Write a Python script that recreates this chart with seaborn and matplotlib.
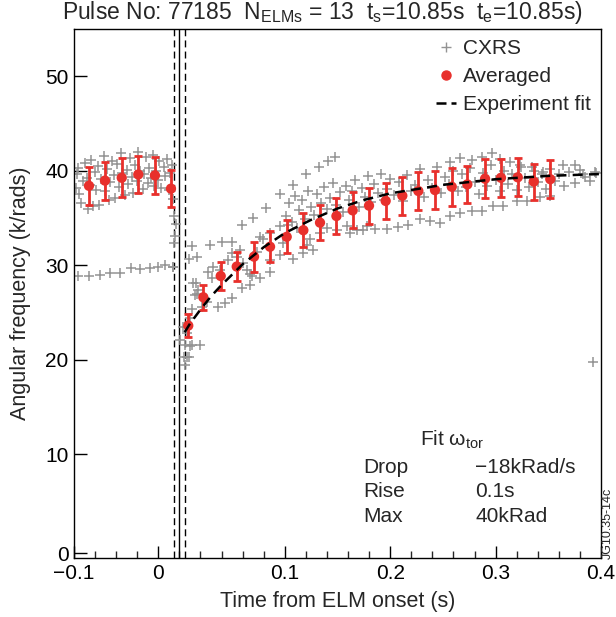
import numpy as np
import seaborn as sns
import matplotlib
matplotlib.use('Agg')
import matplotlib.pyplot as plt
from matplotlib.lines import Line2D
from matplotlib.ticker import FixedLocator

# ---------------- data ----------------
# CXRS measurements (time from ELM onset [s], angular frequency [krad/s])
pre_band_t = [-0.098, -0.097, -0.096, -0.095, -0.093, -0.091, -0.090, -0.088, -0.087, -0.085,
              -0.084, -0.082, -0.080, -0.079, -0.077, -0.076, -0.074, -0.072, -0.071, -0.069,
              -0.067, -0.066, -0.064, -0.062, -0.061, -0.059, -0.057, -0.055, -0.054, -0.052,
              -0.050, -0.049, -0.047, -0.045, -0.044, -0.042, -0.040, -0.039, -0.037, -0.035,
              -0.034, -0.032, -0.030, -0.029, -0.027, -0.025, -0.024, -0.022, -0.020, -0.019,
              -0.017, -0.015, -0.014, -0.012, -0.010, -0.009, -0.007, -0.006, -0.005, -0.004]
pre_band_w = [38.2, 39.6, 40.3, 37.5, 36.6, 38.9, 40.8, 39.2, 35.9, 38.5,
              41.1, 36.3, 39.9, 38.0, 40.5, 36.4, 39.1, 41.6, 37.8, 40.2,
              36.9, 38.8, 41.0, 39.5, 37.1, 40.7, 38.3, 41.9, 39.8, 37.4,
              40.1, 38.6, 41.3, 39.3, 37.6, 40.6, 38.9, 42.0, 40.0, 38.1,
              39.7, 41.4, 38.7, 40.3, 39.2, 41.7, 38.4, 40.0, 39.0, 41.0,
              38.2, 40.4, 39.4, 41.2, 38.0, 39.8, 40.6, 37.0, 35.2, 33.1]

pre_low_t = [-0.096, -0.0855, -0.0753, -0.0658, -0.0564, -0.0459, -0.0374, -0.0279, -0.020, -0.0137, -0.0058]
pre_low_w = [28.9, 28.8, 29.0, 29.2, 29.2, 29.75, 29.6, 29.75, 29.85, 30.0, 29.85]

onset_t = [-0.003, -0.005, -0.006, 0.009, 0.017, 0.016, 0.017, 0.012,
           0.001, 0.005, 0.012, 0.020, 0.004, 0.009, 0.005, 0.007, 0.003, 0.0101, 0.0069]
onset_w = [34.4, 32.3, 29.8, 30.7, 30.9, 28.1, 26.9, 32.0,
           22.1, 21.6, 21.5, 21.6, 20.3, 20.3, 19.4, 22.8, 23.5, 21.4, 20.3]

rise_t = [0.0132, 0.0179, 0.0148, 0.0117, 0.0101, 0.0211, 0.0259, 0.0274, 0.0306, 0.0322,
          0.0385, 0.0464, 0.0496, 0.0544, 0.0575, 0.0606, 0.0639, 0.067, 0.0686, 0.0591,
          0.0496, 0.0369, 0.0433, 0.0733, 0.0765, 0.0796, 0.086, 0.0954, 0.1033, 0.1113,
          0.1176, 0.1239, 0.1334, 0.1398, 0.1492, 0.1587, 0.1682, 0.1777, 0.086, 0.0765,
          0.0954, 0.1081, 0.1176, 0.127, 0.1208, 0.0986, 0.086, 0.067]
rise_w = [28.1, 27.4, 26.85, 25.4, 24.4, 25.6, 26.1, 29.3, 28.6, 29.8,
          29.5, 30.55, 31.3, 30.9, 31.6, 30.2, 29.5, 29.1, 28.8, 27.6,
          26.5, 25.6, 26.0, 31.4, 33.0, 32.8, 33.4, 34.1, 34.25, 33.9,
          33.5, 32.8, 33.4, 33.9, 33.7, 34.1, 33.7, 34.1, 29.3, 28.6,
          31.1, 30.7, 31.3, 31.6, 32.1, 32.3, 30.55, 27.9]

upper_t = [0.029, 0.040, 0.050, 0.059, 0.070, 0.082, 0.095, 0.108, 0.120, 0.132, 0.141, 0.148]
upper_w = [32.1, 32.4, 32.4, 34.2, 35.0, 36.0, 37.5, 38.5, 39.6, 40.4, 41.0, 41.5]

late_t = [0.101, 0.104, 0.107, 0.110, 0.113, 0.116, 0.119, 0.122, 0.125, 0.128,
          0.131, 0.134, 0.137, 0.140, 0.143, 0.146, 0.149, 0.152, 0.155, 0.158,
          0.161, 0.164, 0.167, 0.170, 0.173, 0.176, 0.179, 0.182, 0.185, 0.188,
          0.191, 0.194, 0.197, 0.200, 0.204, 0.208, 0.212, 0.216, 0.220, 0.224,
          0.228, 0.232, 0.236, 0.240, 0.244, 0.248, 0.252, 0.256, 0.260, 0.264,
          0.268, 0.272, 0.276, 0.280, 0.284, 0.288, 0.292, 0.296, 0.300, 0.304,
          0.308, 0.312, 0.316, 0.320, 0.324, 0.328, 0.332, 0.336, 0.340, 0.344,
          0.348, 0.352, 0.356, 0.360, 0.365, 0.370, 0.375, 0.380, 0.385, 0.390, 0.395]
late_w = [35.2, 36.6, 34.6, 37.3, 35.8, 36.9, 34.9, 37.8, 36.2, 35.3,
          37.5, 36.6, 38.3, 35.9, 37.1, 38.7, 36.4, 37.7, 35.6, 38.4,
          36.9, 37.9, 39.0, 36.2, 38.2, 37.2, 39.4, 36.7, 38.6, 37.6,
          39.7, 36.9, 38.1, 39.1, 37.4, 38.8, 36.8, 39.5, 37.9, 38.5,
          40.2, 37.2, 39.0, 38.2, 40.4, 37.6, 39.3, 38.6, 40.0, 37.9,
          39.6, 38.3, 40.3, 38.8, 37.5, 39.8, 38.4, 40.6, 39.0, 37.8,
          40.0, 38.6, 39.6, 38.0, 40.4, 39.2, 38.3, 40.0, 38.8, 39.7,
          38.1, 40.2, 38.9, 39.6, 38.4, 39.9, 38.7, 40.1, 39.3, 38.9, 39.8]

lowstreak_t = [0.1619, 0.1745, 0.1856, 0.1967, 0.2077, 0.2172, 0.2283, 0.2378, 0.2473, 0.2567,
               0.2662, 0.2773, 0.2868, 0.2978, 0.3073, 0.3200, 0.3295, 0.3421, 0.3516]
lowstreak_w = [33.4, 33.7, 33.8, 33.8, 34.0, 34.25, 34.85, 34.7, 34.5, 35.2,
               35.5, 35.7, 35.7, 36.3, 36.3, 36.8, 36.8, 37.2, 37.35]

top_t = [0.2567, 0.2662, 0.2773, 0.2868, 0.2963, 0.3042, 0.3137, 0.3232, 0.3342, 0.3453,
         0.3642, 0.3753, 0.3832, 0.3943, 0.3924]
top_w = [40.9, 41.3, 41.1, 41.5, 41.9, 41.2, 40.9, 40.6, 40.4, 39.9,
         40.6, 40.6, 39.7, 39.9, 19.8]

cxrs_t = pre_band_t + pre_low_t + onset_t + rise_t + upper_t + late_t + lowstreak_t + top_t
cxrs_w = pre_band_w + pre_low_w + onset_w + rise_w + upper_w + late_w + lowstreak_w + top_w

# ELM-averaged values with error bars
avg_t = [-0.0858, -0.0706, -0.0547, -0.039, -0.0232, -0.008,
         0.0084, 0.0227, 0.0392, 0.0544, 0.0708, 0.086, 0.1018, 0.1176, 0.1334, 0.149,
         0.1644, 0.1799, 0.1957, 0.2115, 0.2267, 0.2425, 0.2584, 0.2732, 0.2900, 0.3051,
         0.3210, 0.3362, 0.3519]
avg_w = [38.4, 38.95, 39.25, 39.6, 39.5, 38.1,
         23.6, 26.6, 28.85, 29.85, 30.9, 31.95, 33.0, 33.7, 34.5, 35.2,
         35.8, 36.3, 36.8, 37.35, 37.85, 37.95, 38.3, 38.55, 39.15, 39.25,
         39.3, 38.85, 39.1]
avg_err = [2.0, 2.0, 2.05, 2.0, 2.0, 1.95,
           1.2, 1.35, 1.5, 1.55, 1.6, 1.65, 1.75, 1.8, 1.85, 1.9,
           1.9, 1.9, 1.95, 2.0, 2.0, 2.0, 2.0, 2.0, 2.05, 2.0,
           2.0, 1.9, 2.0]

# Experiment fit curve
fit_t = [0.005, 0.01, 0.02, 0.03, 0.04, 0.06, 0.08, 0.10, 0.125, 0.15, 0.175, 0.20, 0.25, 0.30, 0.35, 0.40]
fit_w = [22.9, 23.8, 25.3, 26.7, 27.9, 30.1, 31.9, 33.4, 34.8, 36.0, 36.9, 37.6, 38.5, 39.1, 39.45, 39.65]

elm_lines = [-0.005, 0.0, 0.005]

xtick_pos = [-0.1, -0.02, 0.1, 0.2, 0.3, 0.4]
xtick_lab = ['\u22120.1', '0', '0.1', '0.2', '0.3', '0.4']
ytick_pos = [-0.5, 10, 20, 30, 40, 50]
ytick_lab = ['0', '10', '20', '30', '40', '50']

# ---------------- style ----------------
sns.set_style('ticks')
plt.rcParams['font.family'] = ['Liberation Sans', 'DejaVu Sans']
plt.rcParams['mathtext.fontset'] = 'custom'
plt.rcParams['mathtext.rm'] = 'Liberation Sans'
plt.rcParams['mathtext.it'] = 'Liberation Sans:italic'
plt.rcParams['mathtext.default'] = 'regular'

GRAY = '#939393'
RED = '#e8302c'
FS = 15

fig = plt.figure(figsize=(6.16, 6.17), dpi=100)
ax = fig.add_axes([74/616, 1 - 558/617, 527/616, 529/617])

sns.scatterplot(x=cxrs_t, y=cxrs_w, marker='+', color=GRAY, s=50, linewidth=1.1, ax=ax, zorder=2)

for xv in elm_lines:
    if xv == 0.0:
        ax.axvline(xv, color='black', lw=1.0, zorder=1)
    else:
        ax.axvline(xv, color='black', lw=1.0, ls=(0, (5, 3)), zorder=1)

ax.errorbar(avg_t, avg_w, yerr=avg_err, fmt='none', ecolor=RED, elinewidth=2.0,
            capsize=3, capthick=2.0, zorder=3)
sns.scatterplot(x=avg_t, y=avg_w, color=RED, s=55, edgecolor='none', ax=ax, zorder=4)

sns.lineplot(x=fit_t, y=fit_w, color='black', lw=1.8, ax=ax, zorder=5)
ax.lines[-1].set_linestyle((0, (4, 2.5)))

ax.set_xlim(-0.1, 0.4)
ax.set_ylim(-1, 55)
ax.set_xticks(xtick_pos)
ax.set_xticklabels(xtick_lab)
ax.xaxis.set_minor_locator(FixedLocator(np.round(np.arange(-0.08, 0.4, 0.02), 3)))
ax.set_yticks(ytick_pos)
ax.set_yticklabels(ytick_lab)
ax.tick_params(which='major', direction='in', length=9, width=1, labelsize=FS,
               top=False, right=False, colors='black', pad=4)
ax.tick_params(which='minor', direction='in', length=5, width=1, top=False, right=False)
for sp in ax.spines.values():
    sp.set_visible(True)
    sp.set_linewidth(1.0)
    sp.set_color('black')

ax.set_xlabel('Time from ELM onset (s)', fontsize=15.5, labelpad=6)
ax.set_ylabel('Angular frequency (k/rads)', fontsize=15.5, labelpad=10)

handles = [Line2D([], [], marker='+', color=GRAY, ls='none', markersize=7, mew=1.0),
           Line2D([], [], marker='o', color=RED, ls='none', markersize=6.5),
           Line2D([], [], color='black', ls=(0, (4, 2)), lw=1.8)]
ax.legend(handles, ['CXRS', 'Averaged', 'Experiment fit'], loc='upper right', frameon=False,
          fontsize=FS, handlelength=1.0, handletextpad=0.3, labelspacing=0.42,
          borderaxespad=0.3, borderpad=0.2)

ax.text(0.657, 0.223, 'Fit \u03c9$_{\\mathrm{tor}}$', transform=ax.transAxes, fontsize=FS, va='center')
rows = [('Drop', '\u221218kRad/s'), ('Rise', '0.1s'), ('Max', '40kRad')]
for i, (a, b) in enumerate(rows):
    yy = 0.172 - i * 0.047
    ax.text(0.548, yy, a, transform=ax.transAxes, fontsize=FS, va='center')
    ax.text(0.761, yy, b, transform=ax.transAxes, fontsize=FS, va='center')

fig.text(62/616, 1 - 12/617,
         'Pulse No: 77185  N$_{\\mathrm{ELMs}}$ = 13  t$_{\\mathrm{s}}$=10.85s  t$_{\\mathrm{e}}$=10.85s)',
         fontsize=16.5, ha='left', va='center')
fig.text(608/616, 1 - 523/617, 'JG10.35-14c', rotation=90, fontsize=9, ha='center', va='center')

fig.savefig('out.png', dpi=100)
